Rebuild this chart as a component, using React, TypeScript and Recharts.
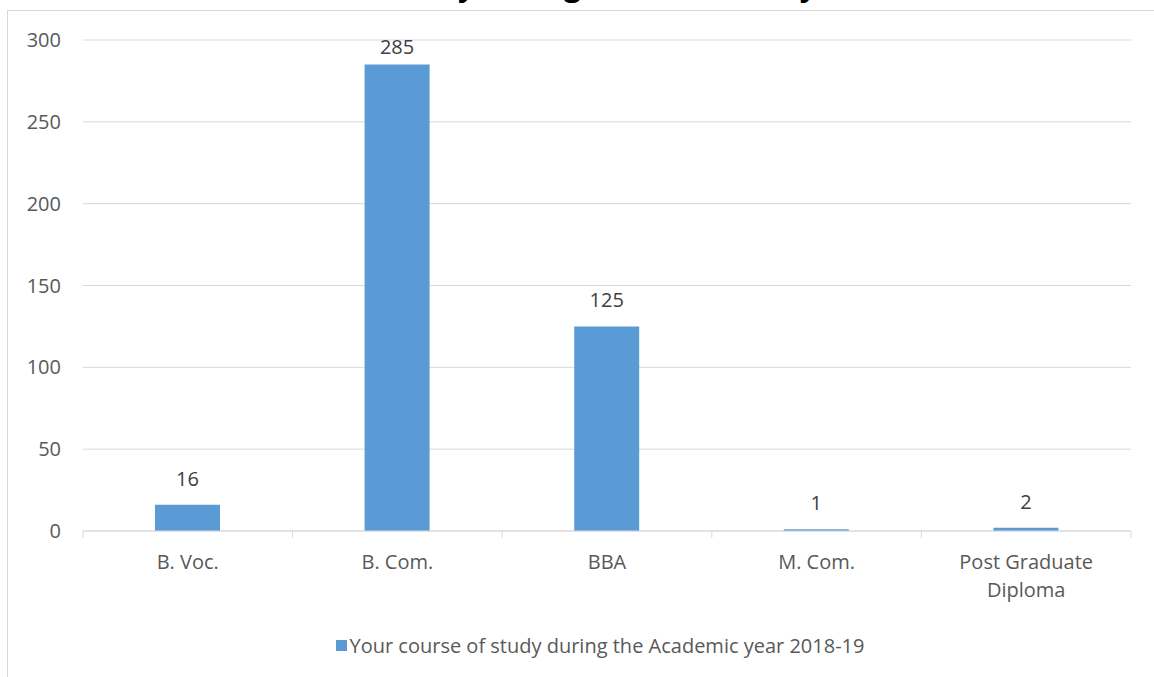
import React from 'react';
import { BarChart, Bar, XAxis, YAxis, CartesianGrid, Legend, LabelList } from 'recharts';

const categories = ['B. Voc.', 'B. Com.', 'BBA', 'M. Com.', 'Post Graduate Diploma'];
const counts = [16, 285, 125, 1, 2];
const yTicks = [0, 50, 100, 150, 200, 250, 300];
const seriesName = 'Your course of study during the Academic year 2018-19';
const chartTitle = 'Your course of study during the Academic year 2018-19';

const data = categories.map((name, i) => ({ name, value: counts[i] }));

const W = 1154;
const H = 677;
const LEFT = 83;
const RIGHT = 23;
const BAND = (W - LEFT - RIGHT) / categories.length;
const FONT = '"Open Sans", "Noto Sans", sans-serif';
const BLUE = '#5b9bd5';
const FS = 20;

function wrap(label: string): string[] {
  if (label.length <= 14) return [label];
  const words = label.split(' ');
  const lines: string[] = [];
  let cur = '';
  for (const w of words) {
    const next = cur ? cur + ' ' + w : w;
    if (next.length > 14 && cur) {
      lines.push(cur);
      cur = w;
    } else cur = next;
  }
  if (cur) lines.push(cur);
  return lines;
}

const CategoryTick = (props: any) => {
  const { x, y, payload, index } = props;
  const lines = wrap(payload.value);
  return (
    <g>
      <line x1={x - BAND / 2} x2={x - BAND / 2} y1={y} y2={y + 7} stroke="#d9d9d9" />
      {index === categories.length - 1 && (
        <line x1={x + BAND / 2} x2={x + BAND / 2} y1={y} y2={y + 7} stroke="#d9d9d9" />
      )}
      <text x={x} y={y + 38} textAnchor="middle" fill="#595959" fontSize={FS} fontFamily={FONT}>
        {lines.map((l, i) => (
          <tspan key={i} x={x} dy={i === 0 ? 0 : 28}>
            {l}
          </tspan>
        ))}
      </text>
    </g>
  );
};

const ValueLabel = (props: any) => {
  const { x, y, width, value } = props;
  const ty = Math.max(y - 19, 54);
  return (
    <text x={x + width / 2} y={ty} textAnchor="middle" fill="#404040" fontSize={FS} fontFamily={FONT}>
      {value}
    </text>
  );
};

const LegendBox = () => (
  <div
    style={{
      display: 'flex',
      justifyContent: 'center',
      alignItems: 'center',
      fontFamily: FONT,
      fontSize: FS,
      color: '#595959',
      height: 24,
    }}
  >
    <span style={{ width: 11, height: 11, background: BLUE, marginRight: 3, display: 'inline-block' }} />
    <span>{seriesName}</span>
  </div>
);

export default function App() {
  return (
    <div style={{ position: 'absolute', left: 0, top: 0, width: W, height: H, overflow: 'hidden', background: '#fff' }}>
      <div
        style={{
          position: 'absolute',
          left: 7,
          top: 10,
          width: W,
          height: H,
          border: '1px solid #d9d9d9',
          boxSizing: 'border-box',
        }}
      />
      <div
        style={{
          position: 'absolute',
          left: 0,
          top: -25,
          width: W,
          textAlign: 'center',
          fontFamily: FONT,
          fontWeight: 'bold',
          fontSize: 30,
          lineHeight: '20px',
          color: '#000',
          whiteSpace: 'nowrap',
        }}
      >
        {chartTitle}
      </div>
      <BarChart
        width={W}
        height={H}
        data={data}
        margin={{ top: 40, right: RIGHT, left: 0, bottom: 92 }}
        barSize={65}
      >
        <CartesianGrid vertical={false} stroke="#d9d9d9" />
        <YAxis
          width={LEFT}
          domain={[0, 300]}
          ticks={yTicks}
          axisLine={false}
          tickLine={false}
          tickSize={0}
          tickMargin={22}
          tick={{ fill: '#595959', fontSize: FS, fontFamily: FONT }}
        />
        <XAxis
          dataKey="name"
          axisLine={{ stroke: '#d9d9d9' }}
          tickLine={false}
          tickSize={0}
          tickMargin={0}
          interval={0}
          tick={<CategoryTick />}
        />
        <Legend
          verticalAlign="bottom"
          content={<LegendBox />}
          wrapperStyle={{ left: 23, width: W, top: 633 }}
        />
        <Bar dataKey="value" name={seriesName} fill={BLUE} isAnimationActive={false}>
          <LabelList dataKey="value" content={<ValueLabel />} />
        </Bar>
      </BarChart>
    </div>
  );
}
